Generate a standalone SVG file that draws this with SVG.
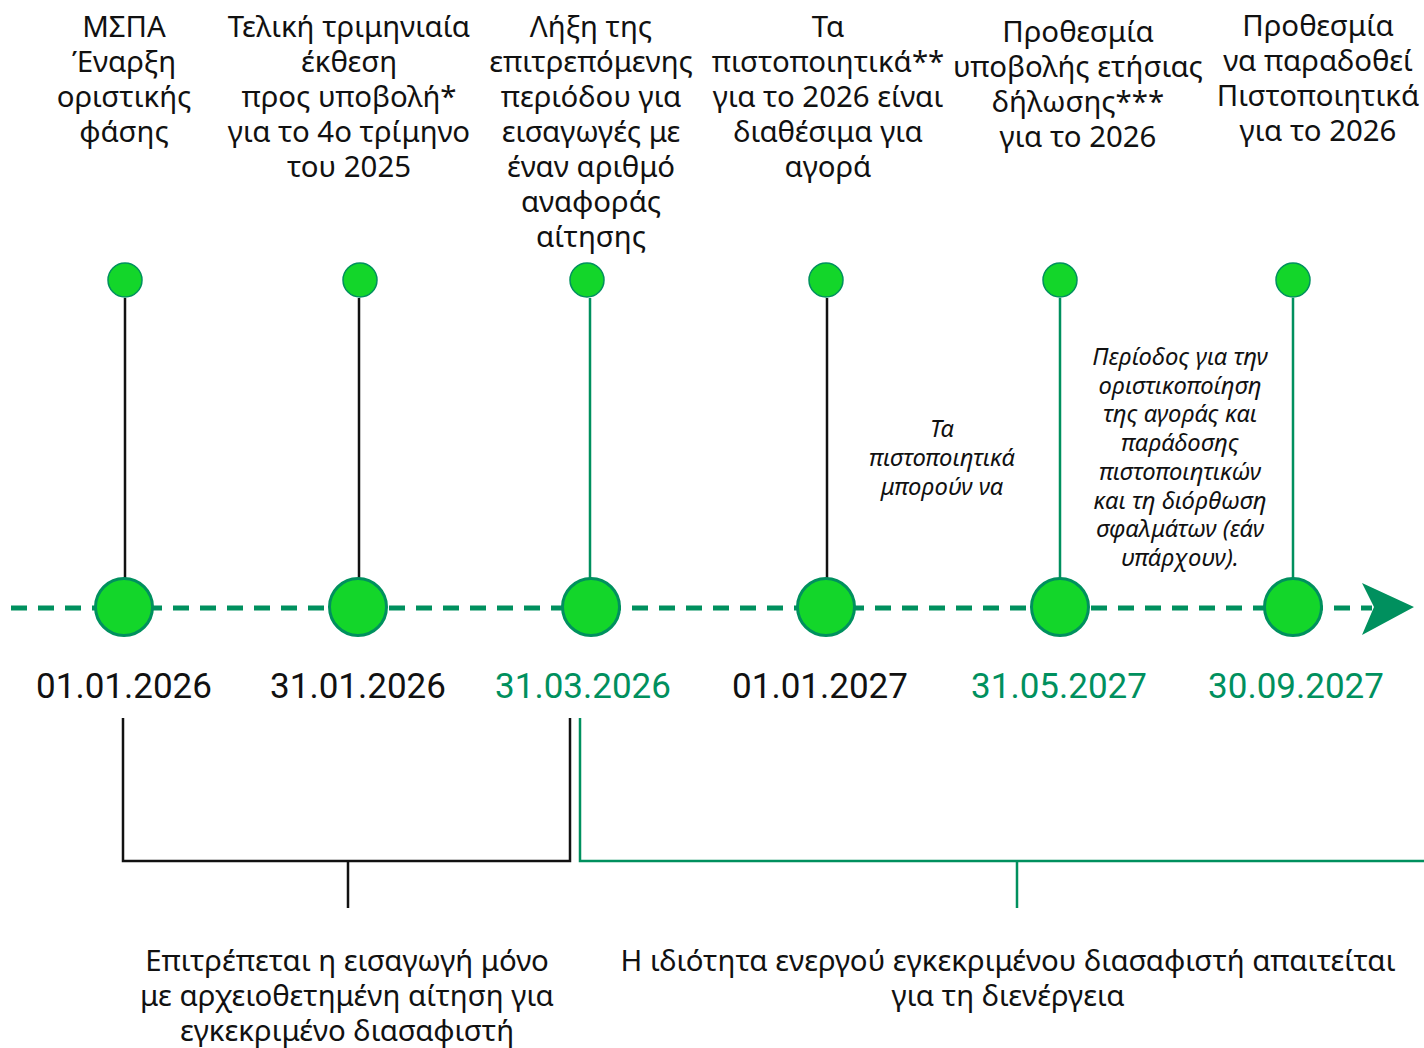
<svg xmlns="http://www.w3.org/2000/svg" width="1424" height="1048" viewBox="0 0 1424 1048">
<style>
.t{font-family:"Noto Sans","Open Sans","DejaVu Sans",sans-serif;font-size:29.4px;fill:#111;text-anchor:middle}
.i{font-family:"Noto Sans","Open Sans","DejaVu Sans",sans-serif;font-size:23.8px;font-style:italic;fill:#111;text-anchor:middle}
.d{font-family:Roboto,"Liberation Sans",sans-serif;font-size:35px;text-anchor:middle}
.dk{fill:#111}.dg{fill:#00905e}
.big{fill:#13d62a;stroke:#00905e;stroke-width:3}
.sm{fill:#13d62a;stroke:#00905e;stroke-width:1.5}
.sk{stroke:#111;stroke-width:2.5;fill:none}
.sg{stroke:#00905e;stroke-width:2.5;fill:none}
</style>
<g id="connectors">
<line x1="11" y1="608" x2="1372" y2="608" stroke="#00905e" stroke-width="5" stroke-dasharray="16 11"/>
<path d="M1362,583 L1414,607 L1362,635 L1374,607 Z" fill="#00905e"/>
<line class="sk" x1="125" y1="298" x2="125" y2="578"/>
<line class="sk" x1="359" y1="298" x2="359" y2="578"/>
<line class="sg" x1="590" y1="298" x2="590" y2="578" stroke-width="2"/>
<line class="sk" x1="827" y1="298" x2="827" y2="578"/>
<line class="sg" x1="1060" y1="298" x2="1060" y2="578"/>
<line class="sg" x1="1293" y1="298" x2="1293" y2="578"/>
<path class="sk" d="M123,718 V861 H570 V718 M348,861 V908"/>
<path class="sg" d="M580,718 V861 H1424 M1017,861 V908"/>
</g>
<g id="n1">
<circle class="sm" cx="125" cy="280" r="17"/>
<circle class="big" cx="124" cy="607" r="28.5"/>
<text class="t" x="124"><tspan x="124" y="37">ΜΣΠΑ</tspan><tspan x="124" y="72">Έναρξη</tspan><tspan x="124" y="107">οριστικής</tspan><tspan x="124" y="142">φάσης</tspan></text>
<text class="d dk" x="124" y="698">01.01.2026</text>
</g>
<g id="n2">
<circle class="sm" cx="360" cy="280" r="17"/>
<circle class="big" cx="358" cy="607" r="28.5"/>
<text class="t"><tspan x="349" y="37">Τελική τριμηνιαία</tspan><tspan x="349" y="72">έκθεση</tspan><tspan x="349" y="107">προς υποβολή*</tspan><tspan x="349" y="142">για το 4ο τρίμηνο</tspan><tspan x="349" y="177">του 2025</tspan></text>
<text class="d dk" x="358" y="698">31.01.2026</text>
</g>
<g id="n3">
<circle class="sm" cx="587" cy="280" r="17"/>
<circle class="big" cx="591" cy="607" r="28.5"/>
<text class="t"><tspan x="591" y="37">Λήξη της</tspan><tspan x="591" y="72">επιτρεπόμενης</tspan><tspan x="591" y="107">περιόδου για</tspan><tspan x="591" y="142">εισαγωγές με</tspan><tspan x="591" y="177">έναν αριθμό</tspan><tspan x="591" y="212">αναφοράς</tspan><tspan x="591" y="247">αίτησης</tspan></text>
<text class="d dg" x="583" y="698">31.03.2026</text>
</g>
<g id="n4">
<circle class="sm" cx="826" cy="280" r="17"/>
<circle class="big" cx="826" cy="607" r="28.5"/>
<text class="t"><tspan x="828" y="37">Τα</tspan><tspan x="828" y="72">πιστοποιητικά**</tspan><tspan x="828" y="107">για το 2026 είναι</tspan><tspan x="828" y="142">διαθέσιμα για</tspan><tspan x="828" y="177">αγορά</tspan></text>
<text class="d dk" x="820" y="698">01.01.2027</text>
<text class="i"><tspan x="942" y="437">Τα</tspan><tspan x="942" y="466">πιστοποιητικά</tspan><tspan x="942" y="495">μπορούν να</tspan></text>
</g>
<g id="n5">
<circle class="sm" cx="1060" cy="280" r="17"/>
<circle class="big" cx="1060" cy="607" r="28.5"/>
<text class="t"><tspan x="1078" y="42">Προθεσμία</tspan><tspan x="1078" y="77">υποβολής ετήσιας</tspan><tspan x="1078" y="112">δήλωσης***</tspan><tspan x="1078" y="147">για το 2026</tspan></text>
<text class="d dg" x="1059" y="698">31.05.2027</text>
<text class="i"><tspan x="1180" y="365">Περίοδος για την</tspan><tspan x="1180" y="394">οριστικοποίηση</tspan><tspan x="1180" y="422">της αγοράς και</tspan><tspan x="1180" y="451">παράδοσης</tspan><tspan x="1180" y="480">πιστοποιητικών</tspan><tspan x="1180" y="509">και τη διόρθωση</tspan><tspan x="1180" y="537">σφαλμάτων (εάν</tspan><tspan x="1180" y="566">υπάρχουν).</tspan></text>
</g>
<g id="n6">
<circle class="sm" cx="1293" cy="280" r="17"/>
<circle class="big" cx="1293" cy="607" r="28.5"/>
<text class="t"><tspan x="1318" y="36">Προθεσμία</tspan><tspan x="1318" y="71">να παραδοθεί</tspan><tspan x="1318" y="106">Πιστοποιητικά</tspan><tspan x="1318" y="141">για το 2026</tspan></text>
<text class="d dg" x="1296" y="698">30.09.2027</text>
</g>
<g id="period1">
<text class="t"><tspan x="347" y="971">Επιτρέπεται η εισαγωγή μόνο</tspan><tspan x="347" y="1006">με αρχειοθετημένη αίτηση για</tspan><tspan x="347" y="1041">εγκεκριμένο διασαφιστή</tspan></text>
</g>
<g id="period2">
<text class="t"><tspan x="1008" y="971">Η ιδιότητα ενεργού εγκεκριμένου διασαφιστή απαιτείται</tspan><tspan x="1008" y="1006">για τη διενέργεια</tspan></text>
</g>
</svg>
